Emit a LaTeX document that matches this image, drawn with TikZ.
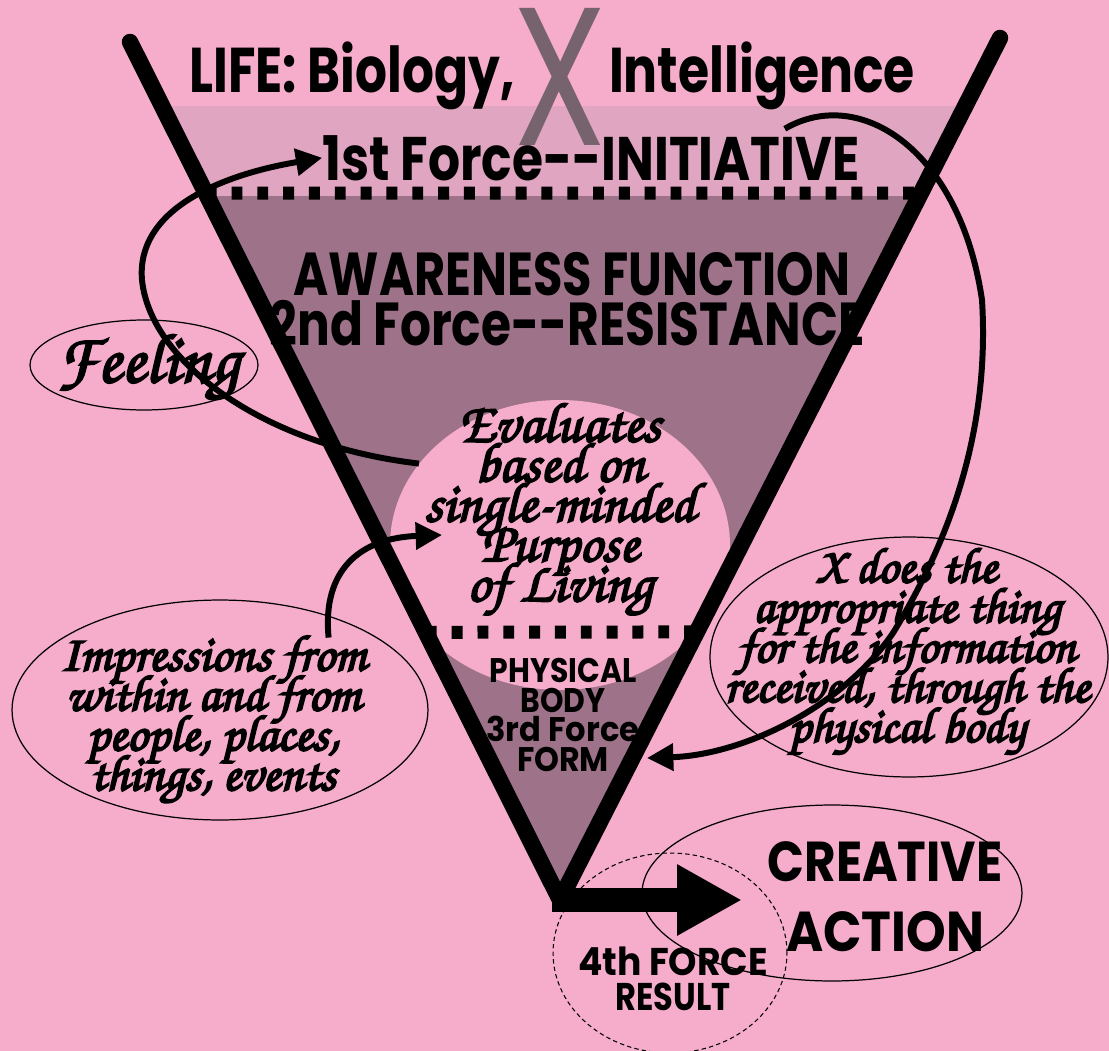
\documentclass[tikz,border=0pt]{standalone}
\usepackage[T1]{fontenc}
\usepackage{fontspec}
\usepackage{graphicx}
\usepackage{tikz}
\usetikzlibrary{arrows.meta,calc,shapes.geometric}
\newfontfamily\popfont{Poppins}
\newcommand\fitw[2]{\resizebox{#1}{\height}{#2}}
\newcommand\brush{\fontencoding{T1}\fontfamily{pzc}\fontseries{mb}\fontshape{it}\selectfont}
\AtBeginDocument{\lineskiplimit=-50pt}
\definecolor{vpink}{HTML}{F6ADCB}
\definecolor{vlight}{HTML}{E0A5C0}
\definecolor{vdark}{HTML}{9E7389}
\definecolor{vgrey}{HTML}{76636D}
\tikzset{
  vline/.style={line width=9.4pt,line cap=round,line join=round},
  dots/.style={line width=7.4pt,dash pattern=on 6.2pt off 8.5pt},
  curarr/.style={-{Triangle[length=15pt,width=15pt]},line width=3.4pt},
  bigarr/.style={-{Triangle[length=37pt,width=38pt]},line width=14.2pt},
  oval/.style={ellipse,draw,line width=0.7pt,inner sep=0pt},
  dashoval/.style={ellipse,draw,line width=0.6pt,dash pattern=on 2.5pt off 1.8pt,inner sep=0pt},
  head/.style={font=\popfont\bfseries\fontsize{36}{36}\selectfont,inner sep=0pt,anchor=base},
  sub/.style={font=\popfont\bfseries\fontsize{34.5}{34.5}\selectfont,inner sep=0pt,anchor=base},
  stack/.style={align=center,inner sep=0pt},
  script/.style={font=\brush\fontsize{30}{22.7}\selectfont,align=center,inner sep=0pt,text=black,
    execute at begin node={\special{pdf:literal direct 2 Tr 1.1 w}},
    execute at end node={\special{pdf:literal direct 0 Tr}}},
}

\begin{document}
\begin{tikzpicture}[x=0.02cm,y=-0.02cm]
  \fill[vpink] (0,0) rectangle (1109,1051);
  \useasboundingbox (0,0) rectangle (1109,1051);
  \coordinate (vl) at (130,42);
  \coordinate (vr) at (1000,38);
  \coordinate (vb) at (560,900);
  \begin{scope}
    \clip (vl) -- (vr) -- (vb) -- cycle;
    \fill[vlight] (0,106) rectangle (1109,196);
    \fill[vdark] (0,196) rectangle (1109,910);
  \end{scope}
  \node[ellipse,fill=vpink,minimum width=6.8cm,minimum height=5.8cm,inner sep=0pt] (evalc) at (560,545) {};
  \draw[dots] ($(vl)!0.176!(vb)$) -- ($(vr)!0.18!(vb)$);
  \draw[dots] ($(vl)!0.688!(vb)$) -- ($(vr)!0.689!(vb)$);

  \node[font=\popfont\fontsize{112}{112}\selectfont,text=vgrey,inner sep=0pt,anchor=base] (xmark) at (560,146) {\fitw{1.9cm}{X}};
  \node[head] (life) at (352,92) {\fitw{6.5cm}{LIFE: Biology,}};
  \node[head] (intel) at (762,92) {\fitw{6.12cm}{Intelligence}};
  \node[head,font=\popfont\bfseries\fontsize{35}{35}\selectfont] (force1) at (591,180) {\fitw{10.74cm}{1st Force-\kern0pt-INITIATIVE}};
  \node[sub] (aware) at (572,295) {\fitw{11.14cm}{AWARENESS FUNCTION}};
  \node[sub] (resist) at (567,345) {\fitw{11.9cm}{2nd Force-\kern0pt-RESISTANCE}};
  \node[stack,font=\popfont\bfseries\fontsize{19.4}{17}\selectfont] (body) at (563,715)
    {\fitw{2.94cm}{PHYSICAL}\\\fitw{1.7cm}{BODY}\\\fitw{3.06cm}{3rd Force}\\\fitw{1.84cm}{FORM}};
  \node[stack,font=\popfont\bfseries\fontsize{32}{39.7}\selectfont] (act) at (885,897)
    {\fitw{4.7cm}{CREATIVE}\\\fitw{3.96cm}{ACTION}};
  \node[stack,font=\popfont\bfseries\fontsize{22}{19.8}\selectfont] (res) at (673,979)
    {\fitw{3.8cm}{4th FORCE}\\\fitw{2.3cm}{RESULT}};

  \node[script,font=\brush\fontsize{32}{22.7}\selectfont] (evaltxt) at (560,510) {Evaluates\\based on\\single-minded\\Purpose\\of Living};
  \node[script,font=\brush\fontsize{40}{40}\selectfont] (feeltxt) at (148,368) {Feeling};
  \node[script,font=\brush\fontsize{29}{22.7}\selectfont] (imprtxt) at (213,720) {Impressions from\\within and from\\people, places,\\things, events};
  \node[script,font=\brush\fontsize{28.5}{22.7}\selectfont] (xtxt) at (907,652) {X does the\\appropriate thing\\for the information\\received, through the\\physical body};

  \node[oval,minimum width=4.56cm,minimum height=1.8cm] (feelell) at (144,365) {};
  \node[oval,minimum width=8.32cm,minimum height=4.4cm] (imprell) at (220,710) {};
  \node[oval,minimum width=7.96cm,minimum height=4.8cm] (xell) at (909,657) {};
  \node[oval,minimum width=7.6cm,minimum height=3.52cm] (actell) at (832,893) {};
  \node[dashoval,minimum width=4.68cm,minimum height=4cm] (resell) at (670,953) {};

  \draw[vline] (vl) -- (vb) -- (vr);
  \coordinate (actpt) at (742,900);
  \coordinate (formpt) at (647,758);
  \draw[bigarr] ($(vb)+(-8,0)$) -- (actpt);

  \draw[curarr] (evalc.150) .. controls (260,445) and (150,360) .. (142,280)
    .. controls (136,210) and (220,175) .. (force1.west);
  \draw[curarr] ($(force1.north east)+(-75,-6)$) .. controls (860,85) and (960,150) .. (982,300)
    .. controls (990,430) and (950,540) .. (893,633) .. controls (840,710) and (740,755) .. (formpt);
  \draw[curarr] ($(imprell.41)+(0,22)$) .. controls (322,570) and (360,538) .. ($(evalc.center)+(-118,-10)$);
\end{tikzpicture}
\end{document}
